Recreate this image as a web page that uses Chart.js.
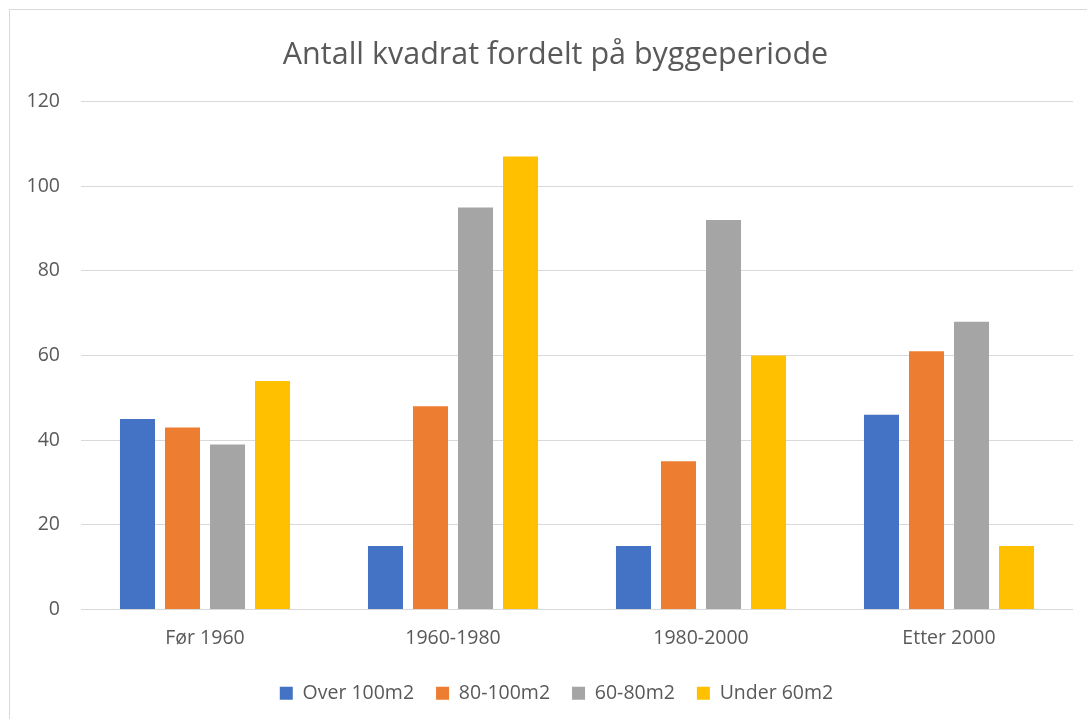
<!DOCTYPE html>
<html>
<head>
<meta charset="utf-8">
<script src="https://cdn.jsdelivr.net/npm/chart.js@4/dist/chart.umd.min.js"></script>
<style>
  html, body { margin: 0; padding: 0; background: #fff; }
  #ramme {
    position: absolute; left: 9px; top: 9px; width: 1100px; height: 730px;
    border: 1px solid #d9d9d9; box-sizing: border-box;
  }
  #boks { position: absolute; left: 0; top: 0; width: 1087px; height: 719px; }
</style>
</head>
<body>
<div id="ramme"></div>
<div id="boks"><canvas id="grafico"></canvas></div>
<script>
// Data lest av figuren
const perioder = ['Før 1960', '1960-1980', '1980-2000', 'Etter 2000'];
const over100 = [45, 15, 15, 46];
const m80til100 = [43, 48, 35, 61];
const m60til80 = [39, 95, 92, 68];
const under60 = [54, 107, 60, 15];
const yTicks = [0, 20, 40, 60, 80, 100, 120];

const farger = ['#4472c4', '#ed7d31', '#a5a5a5', '#ffc000'];
const tekstFarge = '#595959';
const fontNavn = '"Open Sans", Lato, sans-serif';

const datos = {
    labels: perioder,
    datasets: [
        { label: 'Over 100m2', data: over100, backgroundColor: farger[0] },
        { label: '80-100m2', data: m80til100, backgroundColor: farger[1] },
        { label: '60-80m2', data: m60til80, backgroundColor: farger[2] },
        { label: 'Under 60m2', data: under60, backgroundColor: farger[3] }
    ]
};

// Excel-diagrammet er bredere enn vinduet, så tittel og legende står litt til høyre
const forskyv = {
    id: 'forskyv',
    afterLayout: (chart) => {
        chart.titleBlock.left += 14;
        chart.titleBlock.right += 14;
        chart.legend.left += 15;
        chart.legend.right += 15;
    }
};

const opciones = {
    responsive: true,
    maintainAspectRatio: false,
    animation: false,
    categoryPercentage: 0.726,
    barPercentage: 0.778,
    layout: { padding: { left: 10, right: 14, top: 37, bottom: 6 } },
    scales: {
        x: {
            grid: { display: false },
            border: { display: false },
            afterFit: (s) => { s.height = 52; },
            ticks: { color: tekstFarge, font: { family: fontNavn, size: 19.5 }, padding: 9 }
        },
        y: {
            min: 0,
            max: 120,
            afterFit: (s) => { s.width = 71; },
            afterBuildTicks: (s) => { s.ticks = yTicks.map(v => ({ value: v })); },
            grid: { color: '#d9d9d9', lineWidth: 1, drawTicks: false },
            border: { display: false },
            ticks: { color: tekstFarge, font: { family: fontNavn, size: 19.5 }, padding: 21 }
        }
    },
    plugins: {
        title: {
            display: true,
            text: 'Antall kvadrat fordelt på byggeperiode',
            color: tekstFarge,
            font: { family: fontNavn, size: 30.5, weight: 'normal' },
            padding: { top: 0, bottom: 28 }
        },
        legend: {
            position: 'bottom',
            labels: {
                color: tekstFarge,
                font: { family: fontNavn, size: 19.5 },
                boxWidth: 13,
                boxHeight: 13,
                padding: 22
            }
        },
        tooltip: { enabled: false }
    }
};

const ctx = document.getElementById('grafico').getContext('2d');
const miGrafico = new Chart(ctx, { type: 'bar', data: datos, options: opciones, plugins: [forskyv] });
</script>
</body>
</html>
